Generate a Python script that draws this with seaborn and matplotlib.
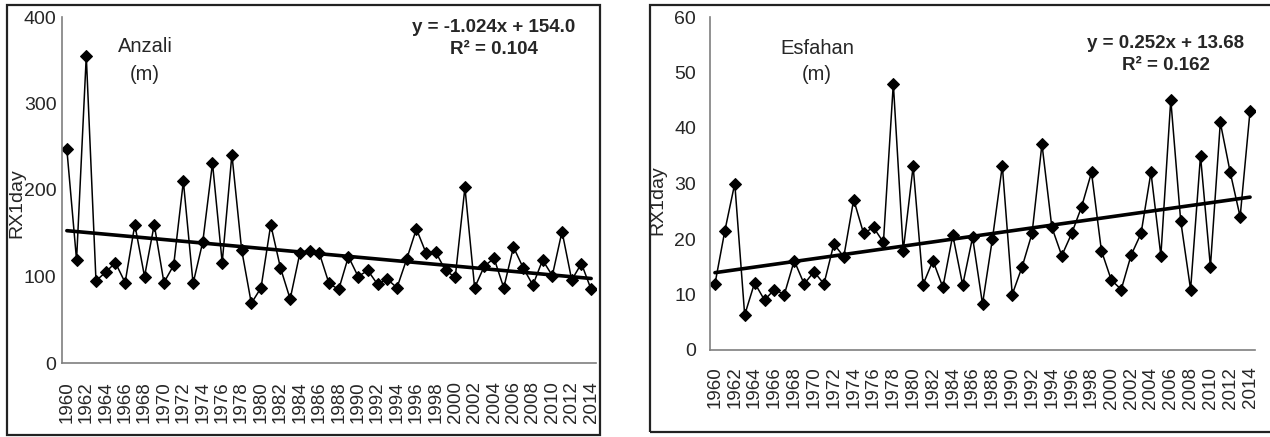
import numpy as np
import pandas as pd
import matplotlib
matplotlib.use("Agg")
import matplotlib.pyplot as plt
from matplotlib.patches import Rectangle
import seaborn as sns

sns.set_style("white")
plt.rcParams["font.family"] = ["Liberation Sans", "DejaVu Sans"]

years = list(range(1960, 2015))

anzali = [247, 119, 355, 95, 105, 116, 93, 160, 100, 160,
          93, 113, 210, 92, 140, 231, 116, 241, 131, 69,
          87, 160, 110, 74, 127, 130, 127, 92, 85, 123,
          100, 107, 91, 97, 87, 120, 155, 127, 128, 107,
          99, 203, 87, 112, 121, 87, 134, 110, 90, 119,
          101, 152, 96, 115, 85]

esfahan = [11.9, 21.5, 30.0, 6.3, 12.1, 9.0, 10.9, 10.0, 16.1, 11.9,
           14.1, 11.9, 19.1, 16.8, 27.1, 21.0, 22.1, 19.4, 48.0, 17.9,
           33.1, 11.8, 16.1, 11.3, 20.7, 11.7, 20.3, 8.3, 20.0, 33.2,
           10.0, 15.0, 21.0, 37.1, 22.1, 17.0, 21.0, 25.8, 32.0, 17.9,
           12.6, 10.9, 17.1, 21.0, 32.0, 17.0, 45.1, 23.3, 10.9, 35.0,
           15.0, 41.0, 32.0, 24.0, 43.1]

stations = ["Anzali", "Esfahan"]
slopes = [-1.024, 0.252]
intercepts = [154.0, 13.68]
eq_texts = ["y = -1.024x + 154.0", "y = 0.252x + 13.68"]
r2_texts = ["R\u00b2 = 0.104", "R\u00b2 = 0.162"]
y_ticks = [[0, 100, 200, 300, 400], [0, 10, 20, 30, 40, 50, 60]]
y_limits = [(0, 400), (0, 60)]
x_tick_labels = [str(y) for y in range(1960, 2015, 2)]

W, H = 1270, 437
fig = plt.figure(figsize=(W / 100, H / 100), dpi=100)


def fx(px):
    return px / W


def fy(py):
    return 1 - py / H


# panel geometry in pixels: (left, right, top, bottom)
geo = [(62, 596, 17, 363), (710, 1255, 17, 350)]
ypads = [4, 10]
xpads = [13, 12]
frames = [(7, 600, 5, 435), (650, 1275, 4.5, 432)]
title_pos = [(145, 47, 74), (817, 48, 75)]
eq_pos = [(494, 28, 50), (1166, 43, 65)]
ylab_pos = [(17, 203), (658, 200)]

series = [anzali, esfahan]

for k in range(2):
    l, r, t, b = geo[k]
    ax = fig.add_axes([fx(l), fy(b), fx(r) - fx(l), (b - t) / H])
    df = pd.DataFrame({"year": years, "val": series[k]})
    sns.lineplot(data=df, x="year", y="val", ax=ax, color="black",
                 linewidth=1.1, marker="D", markersize=6.5,
                 markeredgecolor="black", markerfacecolor="black")
    idx = np.arange(1, len(years) + 1)
    trend = slopes[k] * idx + intercepts[k]
    tdf = pd.DataFrame({"year": years, "val": trend})
    sns.lineplot(data=tdf, x="year", y="val", ax=ax, color="black",
                 linewidth=2.6)
    ax.set_xlim(1959.5, 2014.5)
    ax.set_ylim(*y_limits[k])
    ax.set_yticks(y_ticks[k])
    ax.set_xticks(list(range(1960, 2015, 2)))
    ax.set_xticklabels(x_tick_labels, rotation=90)
    ax.tick_params(axis="x", length=0, pad=xpads[k], labelsize=13.5)
    ax.tick_params(axis="y", length=0, pad=ypads[k], labelsize=14)
    ax.set_xlabel("")
    ax.set_ylabel("")
    for s in ["top", "right"]:
        ax.spines[s].set_visible(False)
    for s in ["left", "bottom"]:
        ax.spines[s].set_color("#7f7f7f")
        ax.spines[s].set_linewidth(1.2)
    ax.patch.set_alpha(0)

    fl, fr, ft, fb = frames[k]
    fig.patches.append(Rectangle((fx(fl), fy(fb)), fx(fr) - fx(fl), (fb - ft) / H,
                                 transform=fig.transFigure, fill=False,
                                 edgecolor="#222222", linewidth=1.6))

    tx, ty1, ty2 = title_pos[k]
    fig.text(fx(tx), fy(ty1), stations[k], ha="center", va="center", fontsize=14.5)
    fig.text(fx(tx), fy(ty2), "(m)", ha="center", va="center", fontsize=14.5)
    ex, ey1, ey2 = eq_pos[k]
    fig.text(fx(ex), fy(ey1), eq_texts[k], ha="center", va="center",
             fontsize=13.5, fontweight="bold")
    fig.text(fx(ex), fy(ey2), r2_texts[k], ha="center", va="center",
             fontsize=13.5, fontweight="bold")
    lx, ly = ylab_pos[k]
    fig.text(fx(lx), fy(ly), "RX1day", rotation=90, ha="center", va="center",
             fontsize=14)

fig.savefig("out.png", dpi=100)
